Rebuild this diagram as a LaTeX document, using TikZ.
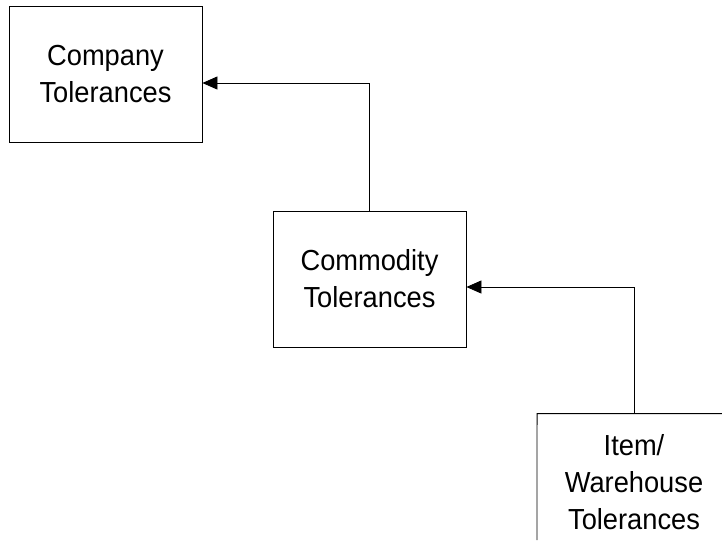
\documentclass[tikz,border=0pt]{standalone}
\usepackage{fontspec}
\setmainfont{Liberation Sans}
\newfontfamily\lblfont[FakeStretch=0.94]{Liberation Sans}
\usetikzlibrary{arrows.meta}
\begin{document}
\begin{tikzpicture}[x=1pt,y=-1pt,
  box/.style={draw=black, line width=0.8pt, fill=white, minimum width=193pt, minimum height=136pt,
    align=center, inner sep=0pt, font=\lblfont\fontsize{29}{37}\selectfont},
  plainbox/.style={box, draw=none},
  conn/.style={draw=black, line width=0.8pt, -{Triangle[length=15pt,width=13pt]}}]
\useasboundingbox (0,0) rectangle (722,550);
\clip (0,0) rectangle (722,550);
\fill[white] (0,0) rectangle (722,550);
\node[box] (comp) at (105.5,74) {Company\\Tolerances};
\node[box] (comm) at (369.5,279) {Commodity\\Tolerances};
\node[plainbox] (item) at (634,482) {Item/\\Warehouse\\Tolerances};
\coordinate (itemcut) at (537,540);
\draw[draw=black, line width=0.8pt] (itemcut) -- (item.north west) -- (item.north east);
\draw[conn] (comm.north) |- ([yshift=-9pt]comp.east);
\draw[conn] (item.north) |- ([yshift=-8pt]comm.east);
\end{tikzpicture}
\end{document}
